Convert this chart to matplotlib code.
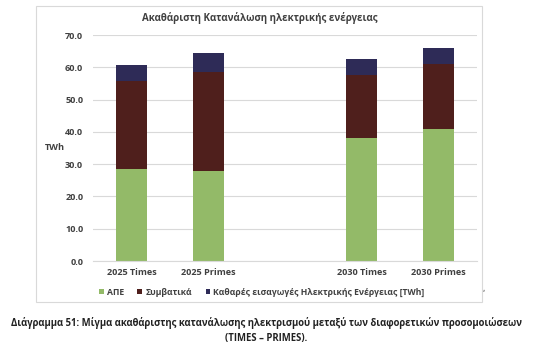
import matplotlib
matplotlib.use('Agg')
import matplotlib.pyplot as plt
from matplotlib.patches import Rectangle

# data (TWh)
categories = ['2025 Times', '2025 Primes', '', '2030 Times', '2030 Primes']
ape = [28.4, 28.0, 0.0, 38.1, 40.9]
symvatika = [27.3, 30.7, 0.0, 19.6, 20.1]
eisagoges = [4.9, 5.6, 0.0, 4.8, 5.1]
series_names = ['ΑΠΕ', 'Συμβατικά', 'Καθαρές εισαγωγές Ηλεκτρικής Ενέργειας [TWh]']
yticks = [0, 10, 20, 30, 40, 50, 60, 70]

plt.rcParams['font.family'] = ['Open Sans', 'DejaVu Sans']
plt.rcParams['font.weight'] = 'bold'

fig = plt.figure(figsize=(5.33, 3.47), dpi=100)
ax = fig.add_axes([0.1745, 0.2478, 0.7205, 0.6512])

colors = ['#93BA68', '#4F1F1C', '#2E2B57']
x = list(range(len(categories)))
bottom2 = [a + b for a, b in zip(ape, symvatika)]
ax.bar(x, ape, width=0.4, color=colors[0], label=series_names[0])
ax.bar(x, symvatika, width=0.4, bottom=ape, color=colors[1], label=series_names[1])
ax.bar(x, eisagoges, width=0.4, bottom=bottom2, color=colors[2], label=series_names[2])

ax.set_xlim(-0.5, 4.5)
ax.set_ylim(0, 70)
ax.set_yticks(yticks)
ax.set_yticklabels(['%.1f' % v for v in yticks], fontsize=6.6, fontweight='bold', color='#404040')
ax.set_xticks(x)
ax.set_xticklabels(categories, fontsize=6.6, fontweight='bold', color='#404040')
ax.tick_params(length=0, pad=7)
ax.tick_params(axis='x', pad=5)
ax.yaxis.grid(True, color='#D9D9D9', linewidth=0.8)
ax.set_axisbelow(True)
for s in ['left', 'right', 'top']:
    ax.spines[s].set_visible(False)
ax.spines['bottom'].set_color('#D9D9D9')

fig.text(0.103, 0.574, 'TWh', fontsize=6.6, fontweight='bold', color='#404040', ha='center', va='center')
fig.text(0.488, 0.948, 'Ακαθάριστη Κατανάλωση ηλεκτρικής ενέργειας', fontsize=7,
         fontweight='bold', color='#404040', ha='center', va='center')

leg = fig.legend(loc='center', bbox_to_anchor=(0.491, 0.158), ncol=3, frameon=False,
                 fontsize=6.2, handlelength=0.55, handleheight=0.55, handletextpad=0.35,
                 columnspacing=1.6)
for t in leg.get_texts():
    t.set_color('#404040')

# outer chart frame
fig.patches.append(Rectangle((36 / 533, 1 - 302 / 347), 446 / 533, 296 / 347,
                             transform=fig.transFigure, fill=False,
                             edgecolor='#D9D9D9', linewidth=0.8))
fig.text(484 / 533, 1 - 289 / 347, ',', fontsize=6, color='#808080', ha='center', va='center')

fig.text(0.5, 1 - 323 / 347,
         'Διάγραμμα 51: Μίγμα ακαθάριστης κατανάλωσης ηλεκτρισμού μεταξύ των διαφορετικών προσομοιώσεων',
         fontsize=6.85, fontweight='bold', color='#222222', ha='center', va='center')
fig.text(0.5, 1 - 338 / 347, '(TIMES – PRIMES).', fontsize=6.85, fontweight='bold',
         color='#222222', ha='center', va='center')

fig.savefig('out.png', dpi=100)
